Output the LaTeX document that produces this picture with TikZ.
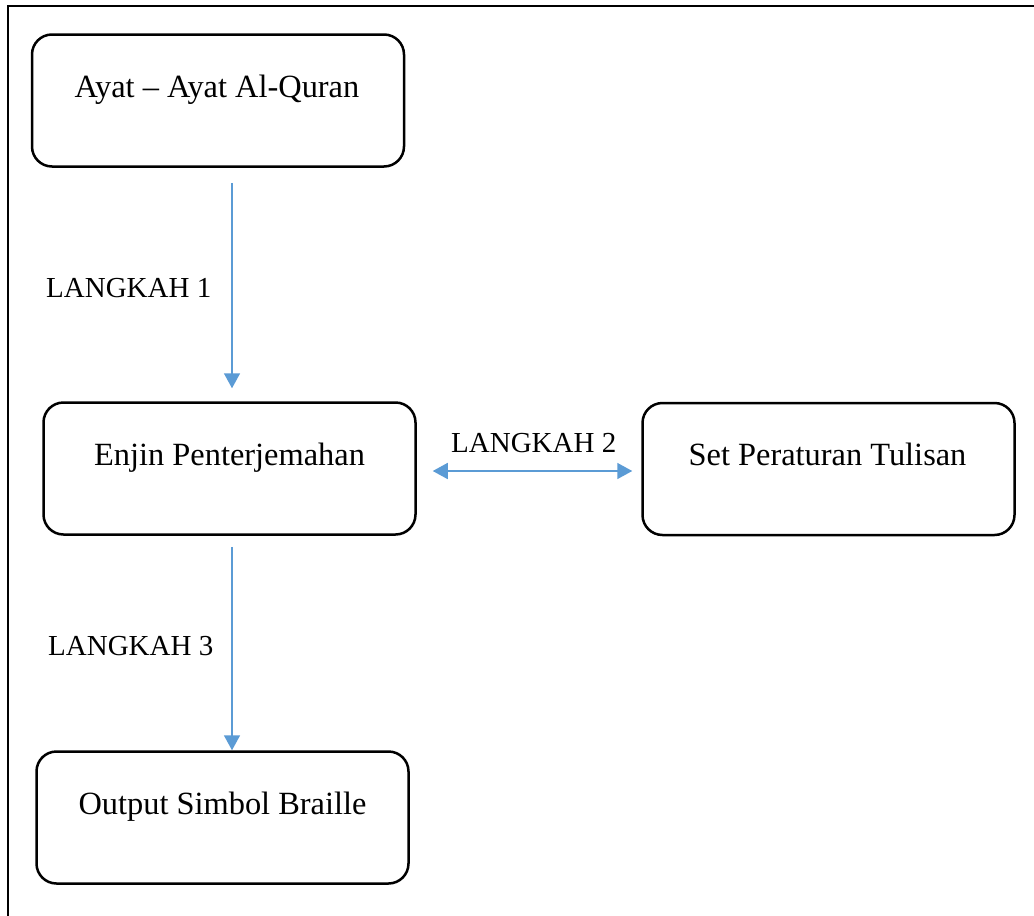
\documentclass[tikz,border=0pt]{standalone}
\usepackage{fontspec}
\setmainfont{Liberation Serif}
\usetikzlibrary{arrows.meta,calc}
\definecolor{arrblue}{RGB}{91,155,213}
\tikzset{
  box/.style={draw=black, line width=2.5pt, rounded corners=20pt, minimum width=372pt, minimum height=132pt, inner sep=0pt},
  boxtext/.style={anchor=base, inner sep=0pt, font=\fontsize{32.4}{38}\selectfont},
  steplabel/.style={anchor=base west, inner sep=0pt, font=\fontsize{29}{34}\selectfont},
  arr/.style={draw=arrblue, line width=1.6pt, -{Triangle[length=15pt,width=16pt]}},
  dblarr/.style={draw=arrblue, line width=1.6pt, {Triangle[length=15pt,width=16pt]}-{Triangle[length=15pt,width=16pt]}}
}
\begin{document}
\begin{tikzpicture}[x=1pt,y=-1pt]
\useasboundingbox (0,0) rectangle (1034,916);
\fill[white] (0,0) rectangle (1034,916);
\draw[line width=2.8pt] (8,6) rectangle (1070,950);

\node[box] (a) at (218,100.5) {};
\node[box] (b) at (229.5,468.5) {};
\node[box] (c) at (828.5,469) {};
\node[box] (d) at (222.5,817.5) {};

\node[boxtext] (ta) at ($(a.north)+(-1,64)$) {Ayat – Ayat Al-Quran};
\node[boxtext] (tb) at ($(b.north)+(0,64)$) {Enjin Penterjemahan};
\node[boxtext] (tc) at ($(c.north)+(-1,64)$) {Set Peraturan Tulisan};
\node[boxtext] (td) at ($(d.north)+(0,64)$) {Output Simbol Braille};

\node[steplabel] (l1) at (46,297) {LANGKAH 1};
\node[steplabel] (l2) at (451,452) {LANGKAH 2};
\node[steplabel] (l3) at (48,655) {LANGKAH 3};

\draw[arr] ($(a.south)+(14,15)$) -- ($(b.north)+(2.5,-13)$);
\draw[arr] ($(b.south)+(2.5,11)$) -- ($(d.north)+(9.5,0)$);
\draw[dblarr] ($(b.east)+(16,2.5)$) -- ($(c.west)+(-9,2)$);
\end{tikzpicture}
\end{document}
